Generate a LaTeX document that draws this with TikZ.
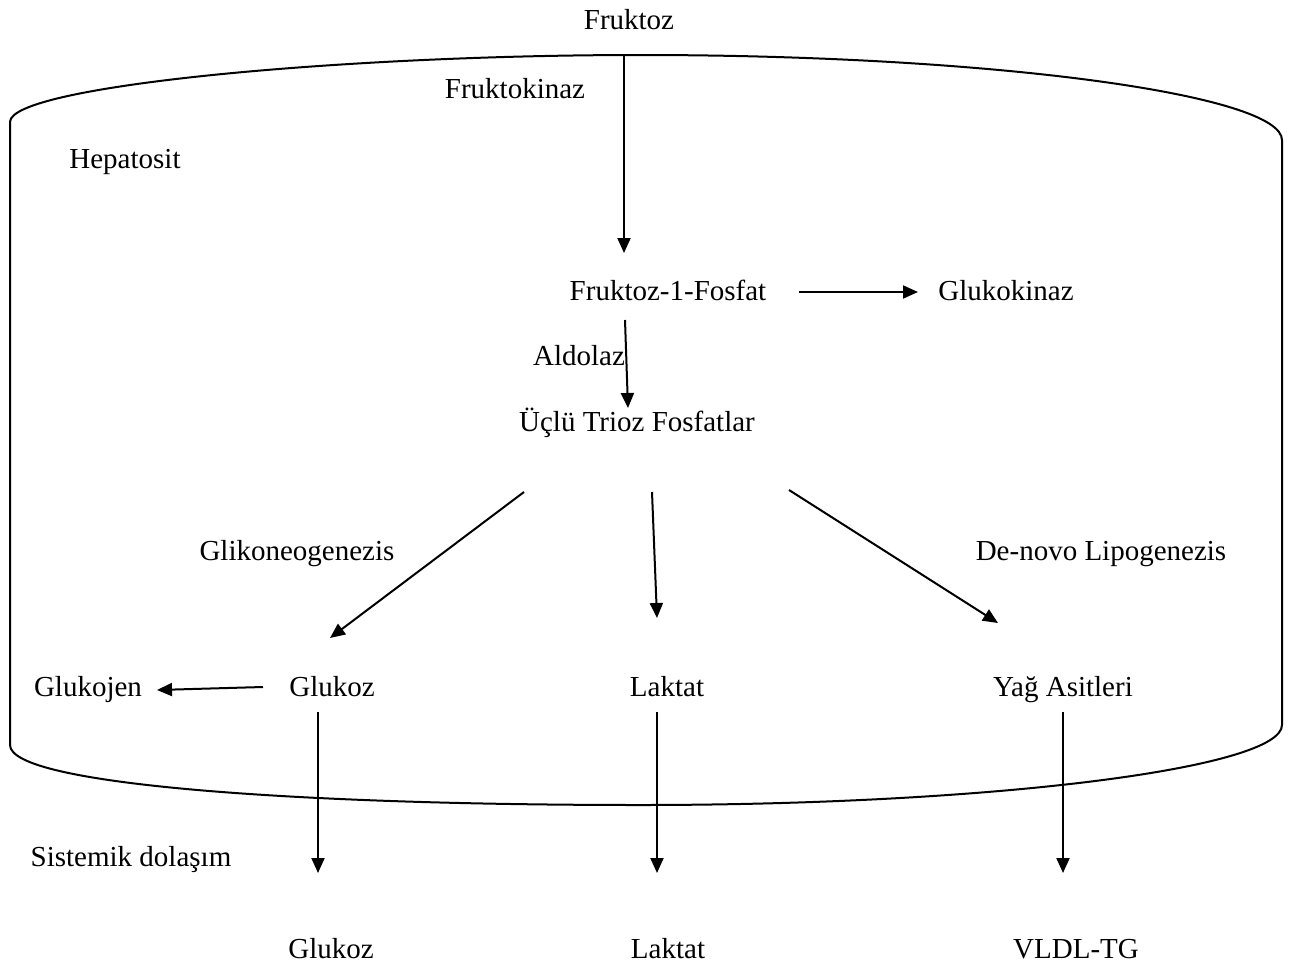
\documentclass[tikz,border=0pt]{standalone}
\usepackage{fontspec}
\setmainfont{Liberation Serif}
\usetikzlibrary{arrows.meta}
\begin{document}
\begin{tikzpicture}[x=1pt,y=-1pt,
  lbl/.style={anchor=base,inner sep=0pt,font=\fontsize{29}{35}\selectfont},
  arr/.style={line width=2pt,-{Triangle[length=15pt,width=13pt]}},
  wall/.style={line width=2pt}]
\useasboundingbox (0,0) rectangle (1296,967);
% container
\draw[wall] (10,745) -- (10,122)
  .. controls (10,86) and (340,55) .. (640,55)
  .. controls (995,55) and (1282,95) .. (1282,140)
  -- (1282,725)
  .. controls (1282,768) and (995,805) .. (640,805)
  .. controls (300,805) and (10,785) .. (10,745);
% labels
\node[lbl] (fruktoz) at (629,29) {Fruktoz};
\node[lbl] (fkinaz) at (515,98) {Fruktokinaz};
\node[lbl] (hepa) at (125,168) {Hepatosit};
\node[lbl] (f1p) at (668,300) {Fruktoz-1-Fosfat};
\node[lbl] (gkinaz) at (1006,300) {Glukokinaz};
\node[lbl] (aldolaz) at (579,365) {Aldolaz};
\node[lbl] (trioz) at (637,431) {Üçlü Trioz Fosfatlar};
\node[lbl] (glikoneo) at (297,560) {Glikoneogenezis};
\node[lbl] (denovo) at (1101,560) {De-novo Lipogenezis};
\node[lbl] (glukojen) at (88,696) {Glukojen};
\node[lbl] (glukoz) at (332,696) {Glukoz};
\node[lbl] (laktat) at (667,696) {Laktat};
\node[lbl] (yag) at (1063,696) {Yağ Asitleri};
\node[lbl] (sistemik) at (131,866) {Sistemik dolaşım};
\node[lbl] (glukozS) at (331,958) {Glukoz};
\node[lbl] (laktatS) at (668,958) {Laktat};
\node[lbl] (vldl) at (1076,958) {VLDL-TG};
% arrow endpoints
\coordinate (a1s) at (624,55);   \coordinate (a1e) at (624,253);
\coordinate (a2s) at (799,292);  \coordinate (a2e) at (918,292);
\coordinate (a3s) at (625,320);  \coordinate (a3e) at (628,408);
\coordinate (a4s) at (524,492);  \coordinate (a4e) at (330,638);
\coordinate (a5s) at (652,492);  \coordinate (a5e) at (657,618);
\coordinate (a6s) at (789,490);  \coordinate (a6e) at (998,623);
\coordinate (a7s) at (263,687);  \coordinate (a7e) at (157,690);
\coordinate (a8s) at (318,712);  \coordinate (a8e) at (318,873);
\coordinate (a9s) at (657,712);  \coordinate (a9e) at (657,873);
\coordinate (a10s) at (1063,712); \coordinate (a10e) at (1063,873);
\draw[arr] (a1s) -- (a1e);
\draw[arr] (a2s) -- (a2e);
\draw[arr] (a3s) -- (a3e);
\draw[arr] (a4s) -- (a4e);
\draw[arr] (a5s) -- (a5e);
\draw[arr] (a6s) -- (a6e);
\draw[arr] (a7s) -- (a7e);
\draw[arr] (a8s) -- (a8e);
\draw[arr] (a9s) -- (a9e);
\draw[arr] (a10s) -- (a10e);
\end{tikzpicture}
\end{document}
